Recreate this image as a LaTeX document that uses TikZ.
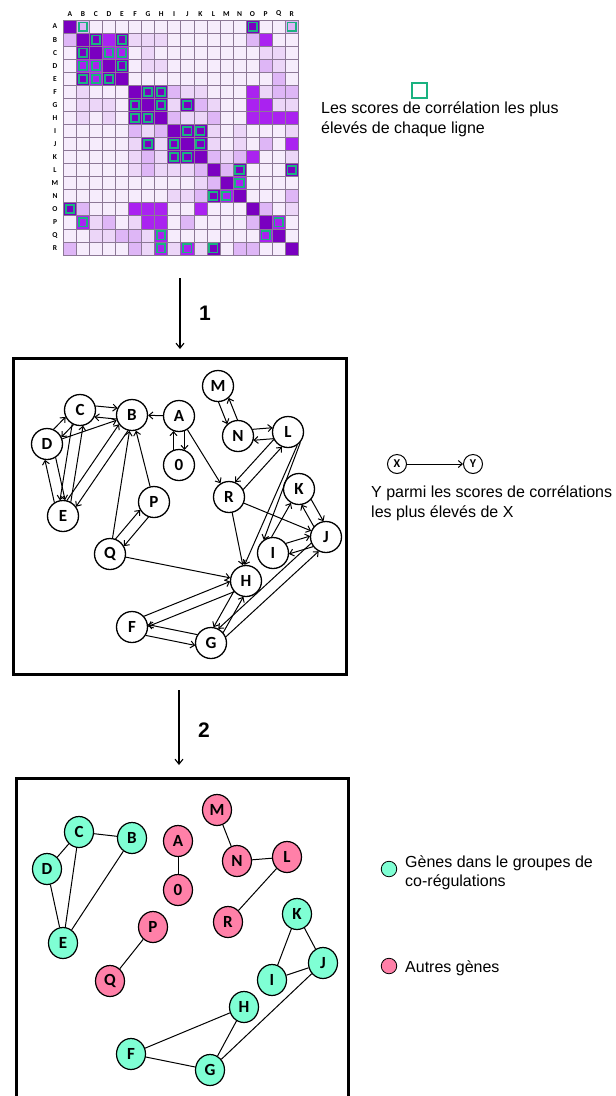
\documentclass[tikz,border=0pt]{standalone}
\usepackage{fontspec}
\setmainfont{Liberation Sans}
\newfontfamily\carl{Carlito}
\usetikzlibrary{arrows.meta,calc,shapes.geometric}
\definecolor{lv0}{RGB}{246,236,252}
\definecolor{lv1}{RGB}{236,214,248}
\definecolor{lv2}{RGB}{222,182,246}
\definecolor{lv3}{RGB}{170,34,240}
\definecolor{lv4}{RGB}{122,0,192}
\definecolor{gridc}{RGB}{140,120,150}
\definecolor{boxg}{RGB}{26,178,128}
\definecolor{gteal}{RGB}{127,255,212}
\definecolor{gpink}{RGB}{255,128,168}
\tikzset{
  hdr/.style={font=\carl\bfseries\fontsize{7.5}{8}\selectfont, inner sep=0},
  gnode/.style={circle, draw, line width=1.3pt, fill=white, minimum size=31pt, inner sep=0,
    font=\carl\bfseries\fontsize{17}{17}\selectfont},
  tnode/.style={ellipse, draw, line width=1.2pt, minimum width=29pt, minimum height=31pt, inner sep=0,
    font=\carl\bfseries\fontsize{17}{17}\selectfont},
  xynode/.style={circle, draw, line width=1pt, minimum size=19pt, inner sep=0,
    font=\carl\bfseries\fontsize{12}{12}\selectfont},
  txt/.style={anchor=base west, inner sep=0, font=\fontsize{16}{19}\selectfont},
  numlbl/.style={inner sep=0, font=\bfseries\fontsize{21}{21}\selectfont},
  gtip/.tip={Straight Barb[length=4pt,width=7pt]},
  sarrow/.style={line width=1pt, -gtip},
  garrow/.style={line width=1pt, -gtip, shorten <=15pt, shorten >=15pt},
  uedge/.style={line width=1pt},
  marrow/.style={line width=1.1pt, -{Straight Barb[length=5pt,width=8pt]}},
  boxframe/.style={line width=3pt}
}
\newcommand\pairR[2]{%
  \draw[garrow] ($(#1)!5.5pt!-90:(#2)$) -- ($(#2)!5.5pt!90:(#1)$);
  \draw[garrow] ($(#2)!5.5pt!-90:(#1)$) -- ($(#1)!5.5pt!90:(#2)$);}
\newcommand\pairL[2]{%
  \draw[garrow] ($(#1)!5.5pt!90:(#2)$) -- ($(#2)!5.5pt!-90:(#1)$);
  \draw[garrow] ($(#2)!5.5pt!90:(#1)$) -- ($(#1)!5.5pt!-90:(#2)$);}
\begin{document}
\begin{tikzpicture}[x=1pt,y=-1pt]
\useasboundingbox (0,0) rectangle (616,1096);
\fill[white] (0,0) rectangle (616,1096);

% ---------- matrix ----------
\foreach \rowdata [count=\r] in {
 {4,12,0,0,0,0,0,0,0,0,0,0,0,0,14,0,0,12},
 {2,4,14,3,14,1,1,1,0,0,0,0,0,0,2,3,0,0},
 {0,14,4,13,13,0,1,0,0,0,0,0,0,0,0,1,1,0},
 {0,13,13,4,14,0,1,1,0,0,0,0,0,0,0,2,1,0},
 {0,14,13,14,4,0,0,0,0,0,0,0,0,0,0,0,2,0},
 {0,1,0,0,0,4,14,14,2,1,1,0,0,0,3,1,2,2},
 {0,1,1,1,0,14,4,14,1,14,2,1,0,0,3,3,1,1},
 {0,1,0,1,0,14,14,4,2,1,1,2,0,0,3,3,3,3},
 {0,0,0,0,0,2,1,2,4,14,14,1,0,1,0,0,0,1},
 {0,0,0,0,0,1,14,1,14,4,14,1,0,1,0,2,0,3},
 {0,0,0,0,0,1,2,1,14,14,4,2,1,2,3,0,0,1},
 {0,0,0,0,0,1,2,1,1,1,2,4,2,14,0,0,0,14},
 {0,0,0,0,0,0,0,0,0,0,1,2,4,13,0,0,0,0},
 {0,0,0,0,0,0,0,0,1,1,2,14,13,4,0,0,0,2},
 {14,2,0,0,0,3,3,3,0,0,3,0,0,0,4,2,0,1},
 {0,13,1,2,0,1,3,3,0,2,0,0,0,0,2,4,13,0},
 {0,0,1,1,2,2,1,13,0,0,0,0,0,0,0,13,4,0},
 {2,0,0,0,0,2,1,13,1,13,1,14,0,2,2,0,0,4}}{
  \foreach \v [count=\c] in \rowdata {
    \pgfmathtruncatemacro\lvl{mod(\v,10)}
    \pgfmathsetmacro\xx{63.3+(\c-1)*13.05}
    \pgfmathsetmacro\yy{20+(\r-1)*13.05}
    \filldraw[fill=lv\lvl, draw=gridc, line width=0.6pt] (\xx,\yy) rectangle ++(13.05,13.05);
    \ifnum\v>9 \draw[boxg, line width=1.8pt] (\xx+2.4,\yy+2.4) rectangle ++(8.25,8.25); \fi
  }
}
\foreach \L [count=\c] in {A,...,R}{
  \node[hdr] (col\L) at ({63.3+(\c-0.5)*13.05},14) {\L};
  \node[hdr] (row\L) at (55,{20+(\c-0.5)*13.05}) {\L};
}

% legend of matrix
\node[draw=boxg, line width=2pt, minimum size=15pt, inner sep=0] (legsq) at (419.5,90) {};
\node[txt] (leg1a) at (321,113) {Les scores de corrélation les plus};
\node[txt] (leg1b) at (321,133) {élevés de chaque ligne};

% step 1 arrow
\coordinate (s1a) at (180,278);
\coordinate (s1b) at (180,349);
\draw[marrow] (s1a) -- (s1b);
\node[numlbl] (num1) at (205,313) {1};

% ---------- graph 1 ----------
\draw[boxframe] (13,358) rectangle (346,674);
\node[gnode] (pA) at (179,416) {A};
\node[gnode] (pB) at (132,415) {B};
\node[gnode] (pC) at (80,410) {C};
\node[gnode] (pD) at (47,444) {D};
\node[gnode] (pE) at (63,516) {E};
\node[gnode] (pF) at (132,627) {F};
\node[gnode] (pG) at (211,643) {G};
\node[gnode] (pH) at (246,581) {H};
\node[gnode] (pI) at (273,553) {I};
\node[gnode] (pJ) at (326,537) {J};
\node[gnode] (pK) at (299,489) {K};
\node[gnode] (pL) at (288,432) {L};
\node[gnode] (pM) at (218,386) {M};
\node[gnode] (pN) at (238,436) {N};
\node[gnode] (pZ) at (179,465) {0};
\node[gnode] (pP) at (154,502) {P};
\node[gnode] (pQ) at (110,554) {Q};
\node[gnode] (pR) at (229,497) {R};

\pairL{pC}{pB}
\pairL{pA}{pZ}
\pairR{pM}{pN}
\pairL{pN}{pL}
\pairR{pL}{pR}
\pairL{pD}{pC}
\pairL{pD}{pE}
\pairR{pC}{pE}
\pairL{pE}{pB}
\pairL{pQ}{pP}
\pairL{pK}{pJ}
\pairL{pI}{pJ}
\pairL{pF}{pH}
\pairR{pH}{pG}
\pairR{pF}{pG}
\pairR{pG}{pJ}
\draw[sarrow] (pA) -- (pB);
\draw[sarrow] (pD) -- (pB);
\draw[sarrow] (pP) -- (pB);
\draw[sarrow] (pQ) -- (pB);
\draw[sarrow] (pA) -- (pR);
\draw[sarrow] (pR) -- (pH);
\draw[sarrow] (pR) -- (pJ);
\draw[sarrow] (pQ) -- (pH);
\draw[sarrow] (pL.-55) -- (pH.95);
\draw[sarrow] (pL.-40) -- (pI.125);
\draw[sarrow] (pI.95) -- (pK.240);

% legend X -> Y
\node[xynode] (lx) at (397,464) {X};
\node[xynode] (ly) at (473,464) {Y};
\draw[sarrow] (lx) -- (ly);
\node[txt] (leg2a) at (371,497) {Y parmi les scores de corrélations};
\node[txt] (leg2b) at (371,517) {les plus élevés de X};

% step 2 arrow
\coordinate (s2a) at (179,690);
\coordinate (s2b) at (179,765);
\draw[marrow] (s2a) -- (s2b);
\node[numlbl] (num2) at (204,730) {2};

% ---------- graph 2 ----------
\draw[boxframe] (16,1096) -- (16,778) -- (348,778) -- (348,1096);
\node[tnode, fill=gpink]  (qA) at (178,841) {A};
\node[tnode, fill=gteal] (qB) at (132,838) {B};
\node[tnode, fill=gteal] (qC) at (79,832) {C};
\node[tnode, fill=gteal] (qD) at (47,869) {D};
\node[tnode, fill=gteal] (qE) at (63,943) {E};
\node[tnode, fill=gteal] (qF) at (131,1054) {F};
\node[tnode, fill=gteal] (qG) at (210,1070) {G};
\node[tnode, fill=gteal] (qH) at (244,1007) {H};
\node[tnode, fill=gteal] (qI) at (272,980) {I};
\node[tnode, fill=gteal] (qJ) at (323,963) {J};
\node[tnode, fill=gteal] (qK) at (297,914) {K};
\node[tnode, fill=gpink]  (qL) at (287,857) {L};
\node[tnode, fill=gpink]  (qM) at (217,810) {M};
\node[tnode, fill=gpink]  (qN) at (237,861) {N};
\node[tnode, fill=gpink]  (qZ) at (178,890) {0};
\node[tnode, fill=gpink]  (qP) at (153,927) {P};
\node[tnode, fill=gpink]  (qQ) at (110,981) {Q};
\node[tnode, fill=gpink]  (qR) at (228,922) {R};
\foreach \a/\b in {qC/qB, qC/qD, qC/qE, qB/qE, qD/qE, qA/qZ, qM/qN, qN/qL, qL/qR,
  qP/qQ, qK/qI, qK/qJ, qI/qJ, qJ/qG, qH/qF, qH/qG, qF/qG}
  \draw[uedge] (\a) -- (\b);

% legend of groups
\node[circle, draw, line width=0.8pt, fill=gteal, minimum size=15.5pt, inner sep=0] (lgt) at (389,869) {};
\node[circle, draw, line width=0.8pt, fill=gpink, minimum size=15.5pt, inner sep=0] (lgp) at (389,966) {};
\node[txt] (leg3a) at (405,867) {Gènes dans le groupes de};
\node[txt] (leg3b) at (405,886) {co-régulations};
\node[txt] (leg3c) at (405,972) {Autres gènes};
\end{tikzpicture}
\end{document}
